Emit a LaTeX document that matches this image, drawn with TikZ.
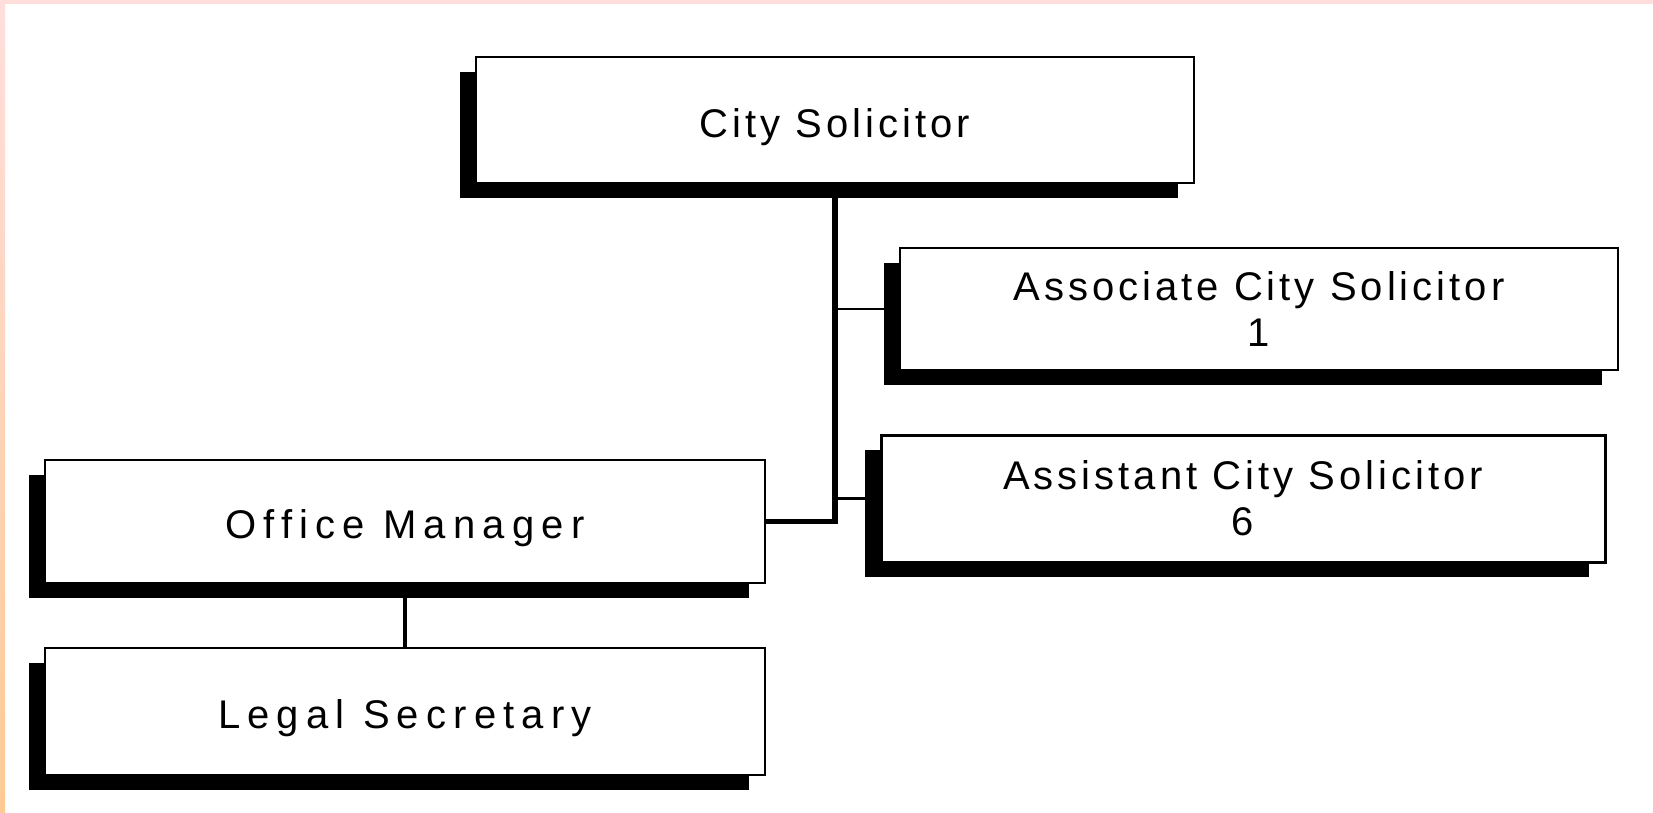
\documentclass[tikz,border=0pt]{standalone}
\usepackage{fontspec}
\setmainfont{Liberation Sans}
\newfontfamily\chartfont[LetterSpace=10]{Liberation Sans}
\newfontfamily\chartwide[LetterSpace=18]{Liberation Sans}
\usetikzlibrary{positioning,shadows}
\definecolor{edgepink}{HTML}{FFDEDC}
\definecolor{edgeorange}{HTML}{FDB882}
\definecolor{edgepeach}{HTML}{FDCA94}
\tikzset{post/.style={draw,line width=1pt,fill=white,inner sep=0pt,align=center,
    minimum width=359pt,font=\chartfont\fontsize{20}{23}\selectfont,
    general shadow={fill=black,shadow xshift=-8pt,shadow yshift=-7.5pt}}}
\tikzset{postwide/.style={post,font=\chartwide\fontsize{20}{23}\selectfont}}
\tikzset{oneline/.style={text height=17pt,text depth=0pt}}
\tikzset{trunk/.style={line width=2.8pt}}
\tikzset{twig/.style={line width=1pt}}

\begin{document}
\begin{tikzpicture}[x=0.5pt,y=-0.5pt]
  \useasboundingbox (0,0) rectangle (1653,813);
  \fill[white] (0,0) rectangle (1653,813);
  \fill[edgepink] (0,0) rectangle (1653,4);
  \shade[top color=edgepink,middle color=edgeorange,bottom color=edgepeach] (0,0) rectangle (5,813);
  % boxes
  \node[post,oneline,minimum height=62.5pt] (sol) at (835,120) {City Solicitor};
  \node[post,minimum height=61pt] (assoc) at (1259,309) {Associate City Solicitor\\1};
  \node[post,minimum width=362pt,minimum height=63.5pt,line width=1.5pt] (assist) at (1243,498.5)
    {Assistant City Solicitor\\6};
  \node[postwide,oneline,minimum width=360pt,minimum height=61.5pt] (mgr) at (405,521.5) {Office Manager};
  \node[postwide,oneline,minimum width=360pt,minimum height=63.5pt,below=31.5pt of mgr] (sec) {Legal Secretary};
  % links
  \draw[trunk] (sol.south) -- (sol.south |- mgr.east) -- (mgr.east);
  \draw[twig] (sol.south |- assoc.west) -- (assoc.west);
  \draw[twig,line width=1.5pt] (sol.south |- assist.west) -- (assist.west);
  \draw[line width=1.8pt] (mgr.south) -- (sec.north);
\end{tikzpicture}
\end{document}
